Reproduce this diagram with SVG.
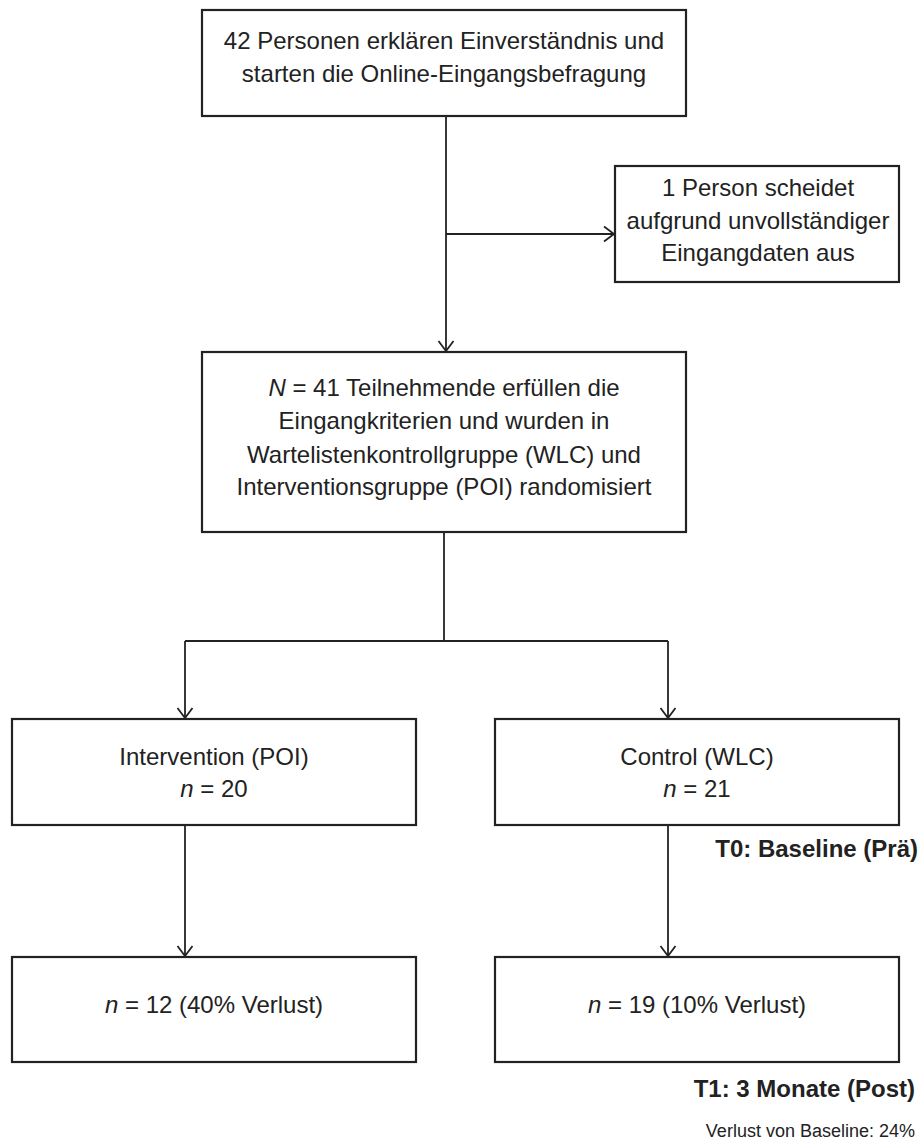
<svg xmlns="http://www.w3.org/2000/svg" width="920" height="1142" viewBox="0 0 920 1142">
<style>
.box{fill:#fff;stroke:#222;stroke-width:2.2}
.t{font-family:"Liberation Sans",Arial,sans-serif;font-size:24px;fill:#222;text-anchor:middle}
.lbl{font-family:"Liberation Sans",Arial,sans-serif;font-size:24px;font-weight:bold;fill:#222;text-anchor:end}
.small{font-family:"Liberation Sans",Arial,sans-serif;font-size:18px;fill:#222;text-anchor:end}
.c{fill:none;stroke:#222;stroke-width:1.8}
</style>
<defs>
<marker id="arr" markerUnits="userSpaceOnUse" markerWidth="20" markerHeight="20" viewBox="-12 -10 14 20" refX="0" refY="0" orient="auto">
<path d="M-10,-7.5 L0,0 L-10,7.5" fill="none" stroke="#222" stroke-width="1.8"/>
</marker>
</defs>
<rect width="920" height="1142" fill="#fff"/>
<g id="connectors">
<path class="c" d="M446,116 V351" marker-end="url(#arr)"/>
<path class="c" d="M446,234 H614" marker-end="url(#arr)"/>
<path class="c" d="M444,532 V641"/>
<path class="c" d="M185,641 H668"/>
<path class="c" d="M185,641 V718" marker-end="url(#arr)"/>
<path class="c" d="M668,641 V718" marker-end="url(#arr)"/>
<path class="c" d="M185,825 V956" marker-end="url(#arr)"/>
<path class="c" d="M668,825 V956" marker-end="url(#arr)"/>
</g>
<g id="start">
<rect class="box" x="202" y="10" width="484" height="106"/>
<text class="t" x="444" y="49">42 Personen erklären Einverständnis und</text>
<text class="t" x="444" y="82">starten die Online-Eingangsbefragung</text>
</g>
<g id="excluded">
<rect class="box" x="615" y="166" width="284" height="116"/>
<text class="t" x="758" y="196">1 Person scheidet</text>
<text class="t" x="758" y="229">aufgrund unvollständiger</text>
<text class="t" x="758" y="261">Eingangdaten aus</text>
</g>
<g id="randomized">
<rect class="box" x="202" y="352" width="484" height="180"/>
<text class="t" x="444" y="396"><tspan font-style="italic">N</tspan> = 41 Teilnehmende erfüllen die</text>
<text class="t" x="444" y="429">Eingangkriterien und wurden in</text>
<text class="t" x="444" y="463">Wartelistenkontrollgruppe (WLC) und</text>
<text class="t" x="444" y="495">Interventionsgruppe (POI) randomisiert</text>
</g>
<g id="intervention">
<rect class="box" x="12" y="719" width="404" height="106"/>
<text class="t" x="214" y="765">Intervention (POI)</text>
<text class="t" x="214" y="797"><tspan font-style="italic">n</tspan> = 20</text>
</g>
<g id="control">
<rect class="box" x="495" y="719" width="404" height="106"/>
<text class="t" x="697" y="765">Control (WLC)</text>
<text class="t" x="697" y="797"><tspan font-style="italic">n</tspan> = 21</text>
</g>
<g id="intervention-post">
<rect class="box" x="12" y="957" width="404" height="105"/>
<text class="t" x="214" y="1013"><tspan font-style="italic">n</tspan> = 12 (40% Verlust)</text>
</g>
<g id="control-post">
<rect class="box" x="495" y="957" width="404" height="105"/>
<text class="t" x="697" y="1013"><tspan font-style="italic">n</tspan> = 19 (10% Verlust)</text>
</g>
<g id="labels">
<text class="lbl" x="918" y="857">T0: Baseline (Prä)</text>
<text class="lbl" x="915" y="1097">T1: 3 Monate (Post)</text>
<text class="small" x="915" y="1137">Verlust von Baseline: 24%</text>
</g>
</svg>
